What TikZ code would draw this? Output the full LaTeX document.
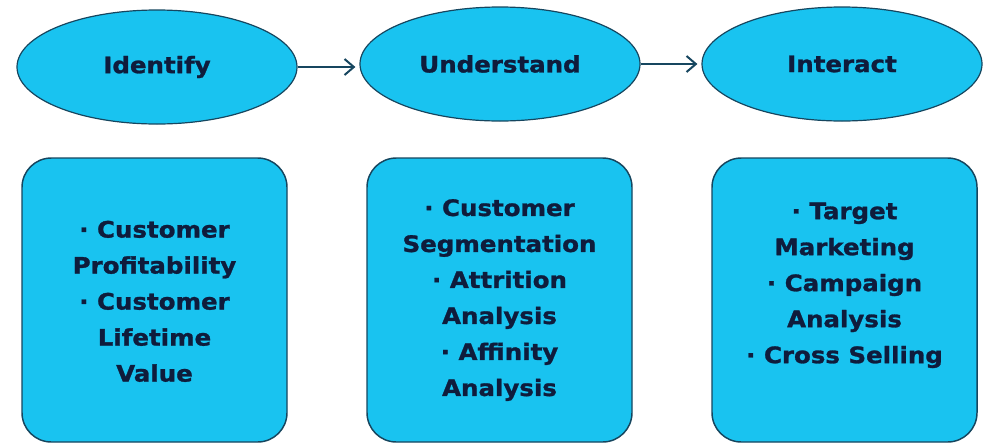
\documentclass[tikz,border=0pt]{standalone}
\usepackage{fontspec}
\setmainfont[FakeStretch=1.08, BoldFeatures={FakeBold=1.2}]{DejaVu Sans}
\usetikzlibrary{shapes.geometric,arrows.meta}
\definecolor{cyanfond}{RGB}{25,195,240}
\definecolor{bordure}{RGB}{22,70,95}
\definecolor{encre}{RGB}{15,28,60}
\begin{document}
\begin{tikzpicture}[x=0.75pt,y=-0.75pt]
\tikzset{bulle/.style={draw=bordure, fill=cyanfond, ellipse, line width=0.9pt, minimum width=210pt, minimum height=85.5pt, text=encre, font=\bfseries\fontsize{17}{27}\selectfont}}
\tikzset{boite/.style={draw=bordure, fill=cyanfond, rounded corners=22pt, line width=1.1pt, minimum width=198.75pt, minimum height=213pt}}
\tikzset{texte/.style={align=center, text=encre, font=\bfseries\fontsize{17}{27}\selectfont}}
\tikzset{fleche/.style={draw=bordure, line width=1.5pt, -{Straight Barb[length=7pt, width=12pt]}, shorten >=3pt}}
\useasboundingbox (0,0) rectangle (987,447);
\node[bulle] (E1) at (157,67) {Identify};
\node[bulle] (E2) at (500,64) {Understand};
\node[bulle] (E3) at (842,64) {Interact};
\draw[fleche] (E1.east) -- (E1.east -| E2.west);
\draw[fleche] (E2.east) -- (E2.east -| E3.west);
\node[boite] (B1) at (154.5,300) {};
\node[boite] (B2) at (499.5,300) {};
\node[boite] (B3) at (844.5,300) {};
\node[texte] (T1) at ([yshift=-1pt]B1.center) {· Customer\\Profitability\\· Customer\\Lifetime\\Value};
\node[texte] (T2) at (B2.center) {· Customer\\Segmentation\\· Attrition\\Analysis\\· Affinity\\Analysis};
\node[texte] (T3) at ([yshift=11pt]B3.center) {· Target\\Marketing\\· Campaign\\Analysis\\· Cross Selling};
\end{tikzpicture}
\end{document}
